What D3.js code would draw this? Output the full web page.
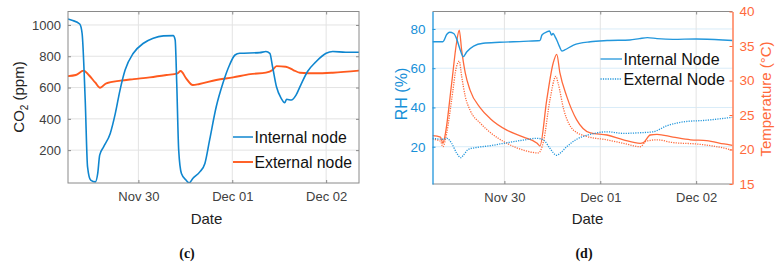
<!DOCTYPE html>
<html><head><meta charset="utf-8">
<script src="https://cdn.jsdelivr.net/npm/d3@7"></script>
<style>
html,body{margin:0;padding:0;background:#fff;}
svg{display:block;font-family:"Liberation Sans",Arial,Helvetica,sans-serif;}
</style></head>
<body><svg id="c" width="780" height="269"></svg>
<script>
// ---------- DATA (hours relative to Nov 30 00:00) ----------
const baseDate = new Date(2019, 10, 30, 0, 0, 0);
const dateTicks = ["2019-11-30", "2019-12-01", "2019-12-02"];

// Panel (c): CO2 (ppm)
const co2Internal = [[-18,1038],[-17,1030],[-15,1006],[-14.4,947],[-13.6,520],[-13,93],[-12.2,8],[-11,-3],[-10.4,51],[-9.9,168],[-8.9,221],[-7.2,307],[-5.9,435],[-4.7,584],[-3.4,712],[-1.3,819],[1.3,883],[3.8,915],[6.4,930],[8.9,932],[9.4,904],[9.8,627],[10.3,200],[11,51],[12.2,8],[13,-9],[13.9,19],[15.7,61],[17,115],[18.2,264],[19.9,477],[21.6,627],[23.3,744],[24.7,808],[25.9,819],[31,823],[32.6,830],[33.6,819],[34.3,733],[35.3,605],[36.5,531],[37.4,503],[37.9,525],[39.1,520],[40.3,552],[41.5,616],[43.2,701],[45.4,765],[48,819],[49.7,830],[53,826],[56.4,826]];
const co2External = [[-18,673],[-16,680],[-14,708],[-12.7,680],[-11,631],[-9.8,599],[-8.2,627],[-4.6,644],[-1.2,654],[2.9,665],[7.2,680],[10,691],[10.8,706],[12.2,659],[13.9,616],[15.6,623],[19.9,648],[24.2,665],[28.6,686],[32.6,695],[34.3,712],[35.3,737],[37.7,733],[39.6,712],[41.3,695],[45.4,691],[49.7,695],[56.4,708]];
const co2Ticks = [200, 400, 600, 800, 1000];
const co2Labels = ["Internal node", "External node"];

// Panel (d): RH (%) and Temperature (°C)
const rhInternal = [[-18,73.5],[-15.4,73.5],[-14.4,77.3],[-13.7,78.3],[-12.7,77.7],[-12,75.2],[-11.2,70.2],[-10.3,65.9],[-9.4,68.4],[-7.7,71.3],[-5.3,72.7],[-1.2,73.2],[4.8,73.7],[8.9,74.1],[9.4,76.9],[10.6,78.5],[11.3,79.0],[11.8,76.9],[12.2,77.7],[12.7,76],[13.1,74.4],[13.8,71],[14.4,68.8],[15.1,69.3],[17.3,71.8],[21.5,73.5],[25.7,74.1],[31.4,74.4],[33.8,75.1],[35.8,75.6],[38.2,75.1],[42.2,74.7],[48,74.9],[54.7,74.4],[57.1,74.1]];
const rhExternal = [[-18,24.3],[-15.4,23.8],[-14.4,24.3],[-13.2,21.7],[-12,16.9],[-10.9,14.4],[-10.3,15.6],[-9,18.7],[-7,19.6],[-3.6,20.5],[0.6,22],[4.8,23.4],[8.2,24.3],[9.8,23.4],[11.4,19.2],[13.1,15.6],[13.9,16.6],[15.6,20],[18.1,23.8],[21.5,26.3],[25.7,27.6],[29.8,26.8],[33.8,27.1],[37.2,27.6],[40.7,30.7],[44.9,32.7],[50.6,33.5],[57.1,35.0]];
const tempInternal = [[-18,22.0],[-16,21.8],[-15.4,20.9],[-14.9,21.9],[-13.2,29.6],[-12,35.4],[-11.3,37.3],[-10.7,34.4],[-9.8,31.1],[-8.6,28.6],[-6,26.0],[-3.6,24.5],[0.6,22.8],[4.8,21.8],[8.2,20.9],[8.9,20.5],[10.6,27.2],[12.2,32.5],[13.1,33.8],[13.9,31.1],[15.6,27.7],[18.1,24.3],[21.5,22.4],[25.7,22.1],[29.8,21.4],[34,20.9],[34.8,21.0],[36.5,22.1],[38.2,22.2],[42.2,21.8],[46.6,21.4],[50.6,21.3],[55,20.8],[57.1,20.6]];
const tempExternal = [[-18,21.5],[-16,21.2],[-15.4,20.4],[-14.4,22.5],[-13.2,27.2],[-12,32],[-11.3,32.8],[-10.7,30.6],[-9.8,27.7],[-8.6,25.7],[-6,23.8],[-3.6,22.5],[0.6,20.9],[4.8,19.9],[8.5,19.5],[9.8,21.2],[11.4,27.2],[12.9,30.6],[13.4,29.7],[14.9,25.7],[17.3,22.8],[20.6,21.9],[25.7,21.4],[29.8,20.9],[34,20.4],[35.5,21.2],[38.2,21.4],[42.2,21.0],[48,20.8],[55,20.2],[57.1,19.9]];
const rhTicks = [20, 40, 60, 80];
const tempTicks = [15, 20, 25, 30, 35, 40];
const rhLabels = ["Internal Node", "External Node"];
const captions = ["(c)", "(d)"];

// ---------- helpers ----------
const toDate = h => new Date(baseDate.getTime() + h * 3600e3);
const parseDay = d3.timeParse("%Y-%m-%d");
const tickDates = dateTicks.map(parseDay);
const fmt = d3.timeFormat("%b %d");
const numFmt = d3.format("d");
const svg = d3.select("#c");
const defs = svg.append("defs");

const BLUE = "#0f86cf", ORANGE = "#ff5a1e";
const BLUE2 = "#2397dc", ORANGE2 = "#ff6a3c";
const GRID = "#e3e3e3", FRAME = "#8a8a8a", TXT = "#404040";
const FONT = "'Liberation Sans', Arial, sans-serif";

function clip(id, x0, y0, w, h) {
  defs.append("clipPath").attr("id", id).append("rect").attr("x", x0).attr("y", y0).attr("width", w).attr("height", h);
}

// ================= Panel (c) =================
{
  const L = 68, R = 359, T = 11.5, B = 183;
  const x = d3.scaleTime().domain([toDate(-18), toDate(56.4)]).range([L, R]);
  const y = d3.scaleLinear().domain([-10, 1086]).range([B, T]);
  const g = svg.append("g");
  clip("clipc", L, T, R - L, B - T);

  g.append("g").selectAll("line").data(co2Ticks).join("line")
    .attr("x1", L).attr("x2", R).attr("y1", d => y(d)).attr("y2", d => y(d))
    .attr("stroke", GRID).attr("stroke-width", 1);
  g.append("g").selectAll("line").data(tickDates).join("line")
    .attr("x1", d => x(d)).attr("x2", d => x(d)).attr("y1", T).attr("y2", B)
    .attr("stroke", GRID).attr("stroke-width", 1);

  const line = d3.line().x(d => x(toDate(d[0]))).y(d => y(d[1])).curve(d3.curveMonotoneX);
  const lg = g.append("g").attr("clip-path", "url(#clipc)");
  lg.append("path").datum(co2External).attr("d", line).attr("fill", "none")
    .attr("stroke", ORANGE).attr("stroke-width", 1.9);
  lg.append("path").datum(co2Internal).attr("d", line).attr("fill", "none")
    .attr("stroke", BLUE).attr("stroke-width", 1.6);

  const ax = g.append("g").attr("transform", `translate(0,${B})`)
    .call(d3.axisBottom(x).tickValues(tickDates).tickFormat(fmt).tickSizeInner(-3).tickSizeOuter(0).tickPadding(9));
  const axT = g.append("g").attr("transform", `translate(0,${T})`)
    .call(d3.axisTop(x).tickValues(tickDates).tickFormat("").tickSizeInner(-3).tickSizeOuter(0));
  const ay = g.append("g").attr("transform", `translate(${L},0)`)
    .call(d3.axisLeft(y).tickValues(co2Ticks).tickFormat(numFmt).tickSizeInner(-3).tickSizeOuter(0).tickPadding(7));
  const ayR = g.append("g").attr("transform", `translate(${R},0)`)
    .call(d3.axisRight(y).tickValues(co2Ticks).tickFormat("").tickSizeInner(-3).tickSizeOuter(0));
  [ax, axT, ay, ayR].forEach(a => {
    a.select(".domain").remove();
    a.selectAll("line").attr("stroke", FRAME);
    a.selectAll("text").attr("fill", TXT).style("font-size", "13px").style("font-family", FONT);
  });
  g.append("rect").attr("x", L).attr("y", T).attr("width", R - L).attr("height", B - T)
    .attr("fill", "none").attr("stroke", FRAME).attr("stroke-width", 1);

  g.append("text").attr("x", 206.5).attr("y", 224).attr("text-anchor", "middle")
    .attr("fill", "#222").style("font-size", "15px").text("Date");
  const yl = g.append("text").attr("transform", "translate(24,97) rotate(-90)")
    .attr("text-anchor", "middle").attr("fill", "#222").style("font-size", "15px");
  yl.append("tspan").text("CO");
  yl.append("tspan").attr("dy", 4).style("font-size", "10px").text("2");
  yl.append("tspan").attr("dy", -4).text(" (ppm)");

  const lgd = g.append("g");
  const colors = [BLUE, ORANGE];
  co2Labels.forEach((lab, i) => {
    const yy = 137 + i * 25;
    lgd.append("line").attr("x1", 233).attr("x2", 253).attr("y1", yy).attr("y2", yy)
      .attr("stroke", colors[i]).attr("stroke-width", i ? 1.9 : 1.5);
    lgd.append("text").attr("x", 254.5).attr("y", yy + 5.5).attr("fill", "#111")
      .style("font-size", "15.8px").text(lab);
  });
}

// ================= Panel (d) =================
{
  const L = 432.5, R = 732.5, T = 11.5, B = 184;
  const x = d3.scaleTime().domain([toDate(-18), toDate(57.1)]).range([L, R]);
  const yRH = d3.scaleLinear().domain([1, 88.9]).range([B, T]);
  const yT = d3.scaleLinear().domain([15, 40]).range([B, T]);
  const g = svg.append("g");
  clip("clipd", L, T, R - L, B - T);

  g.append("g").selectAll("line").data(rhTicks).join("line")
    .attr("x1", L).attr("x2", R).attr("y1", d => yRH(d)).attr("y2", d => yRH(d))
    .attr("stroke", "#d9ecf8").attr("stroke-width", 1);
  g.append("g").selectAll("line").data(tickDates).join("line")
    .attr("x1", d => x(d)).attr("x2", d => x(d)).attr("y1", T).attr("y2", B)
    .attr("stroke", GRID).attr("stroke-width", 1);

  const lRH = d3.line().x(d => x(toDate(d[0]))).y(d => yRH(d[1])).curve(d3.curveMonotoneX);
  const lT = d3.line().x(d => x(toDate(d[0]))).y(d => yT(d[1])).curve(d3.curveMonotoneX);
  const lg = g.append("g").attr("clip-path", "url(#clipd)");
  lg.append("path").datum(tempExternal).attr("d", lT).attr("fill", "none")
    .attr("stroke", ORANGE2).attr("stroke-width", 1.3).attr("stroke-dasharray", "1.2,1.2");
  lg.append("path").datum(tempInternal).attr("d", lT).attr("fill", "none")
    .attr("stroke", ORANGE2).attr("stroke-width", 1.3);
  lg.append("path").datum(rhExternal).attr("d", lRH).attr("fill", "none")
    .attr("stroke", BLUE2).attr("stroke-width", 1.3).attr("stroke-dasharray", "1.2,1.2");
  lg.append("path").datum(rhInternal).attr("d", lRH).attr("fill", "none")
    .attr("stroke", BLUE2).attr("stroke-width", 1.4);

  g.append("line").attr("x1", L).attr("x2", R).attr("y1", T).attr("y2", T).attr("stroke", FRAME);
  g.append("line").attr("x1", L).attr("x2", R).attr("y1", B).attr("y2", B).attr("stroke", FRAME);

  const ax = g.append("g").attr("transform", `translate(0,${B})`)
    .call(d3.axisBottom(x).tickValues(tickDates).tickFormat(fmt).tickSizeInner(-3).tickSizeOuter(0).tickPadding(9));
  const axT = g.append("g").attr("transform", `translate(0,${T})`)
    .call(d3.axisTop(x).tickValues(tickDates).tickFormat("").tickSizeInner(-3).tickSizeOuter(0));
  [ax, axT].forEach(a => {
    a.select(".domain").remove();
    a.selectAll("line").attr("stroke", FRAME);
    a.selectAll("text").attr("fill", TXT).style("font-size", "13px").style("font-family", FONT);
  });
  const ayL = g.append("g").attr("transform", `translate(${L},0)`)
    .call(d3.axisLeft(yRH).tickValues(rhTicks).tickFormat(numFmt).tickSizeInner(-3).tickSizeOuter(0).tickPadding(7));
  ayL.select(".domain").attr("stroke", "#1f95dc").attr("stroke-width", 1.3);
  ayL.selectAll("line").attr("stroke", "#1f95dc");
  ayL.selectAll("text").attr("fill", "#1890d8").style("font-size", "13.5px").style("font-family", FONT);
  const ayR = g.append("g").attr("transform", `translate(${R},0)`)
    .call(d3.axisRight(yT).tickValues(tempTicks).tickFormat(numFmt).tickSizeInner(-3).tickSizeOuter(0).tickPadding(7));
  ayR.select(".domain").attr("stroke", "#ff6a3c").attr("stroke-width", 1.3);
  ayR.selectAll("line").attr("stroke", "#ff6a3c");
  ayR.selectAll("text").attr("fill", "#ff6a3c").style("font-size", "13.5px").style("font-family", FONT);

  g.append("text").attr("x", 587.5).attr("y", 224).attr("text-anchor", "middle")
    .attr("fill", "#222").style("font-size", "15px").text("Date");
  g.append("text").attr("transform", "translate(407,94) rotate(-90)").attr("text-anchor", "middle")
    .attr("fill", "#1890d8").style("font-size", "16px").text("RH (%)");
  g.append("text").attr("transform", "translate(771,99) rotate(-90)").attr("text-anchor", "middle")
    .attr("fill", "#ff6a3c").style("font-size", "15px").text("Temperature (°C)");

  const lgd = g.append("g");
  rhLabels.forEach((lab, i) => {
    const yy = 59 + i * 20;
    const ln = lgd.append("line").attr("x1", 600.5).attr("x2", 622).attr("y1", yy).attr("y2", yy)
      .attr("stroke", BLUE2).attr("stroke-width", 1.3);
    if (i) ln.attr("stroke-dasharray", "1.2,1.2");
    lgd.append("text").attr("x", 623.5).attr("y", yy + 5.5).attr("fill", "#111")
      .style("font-size", "16px").text(lab);
  });
}

// captions
svg.append("g").selectAll("text").data(captions).join("text")
  .attr("x", (d, i) => i ? 584 : 187).attr("y", 258).attr("text-anchor", "middle")
  .attr("fill", "#111").style("font-family", "'Liberation Serif','DejaVu Serif',serif")
  .style("font-weight", "bold").style("font-size", "14px").text(d => d);
</script></body></html>
